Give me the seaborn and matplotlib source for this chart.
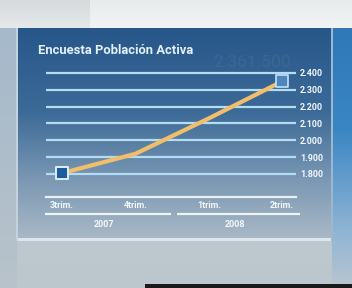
import numpy as np
import pandas as pd
import matplotlib
matplotlib.use("Agg")
import matplotlib.pyplot as plt
import seaborn as sns

# ---- data ----
quarters = ["3trim.", "4trim.", "1trim.", "2trim."]
years = ["2007", "2007", "2008", "2008"]
parados = [1.805, 1.92, 2.13, 2.35]   # millions
yticks = [1.8, 1.9, 2.0, 2.1, 2.2, 2.3, 2.4]
ytick_labels = ["1.800", "1.900", "2.000", "2.100", "2.200", "2.300", "2.400"]
title = "Encuesta Población Activa"
last_label = "2.361.500"

df = pd.DataFrame({"pos": np.arange(len(quarters)), "val": parados,
                   "q": quarters, "year": years})

sns.set_theme(style="white")
plt.rcParams["font.family"] = ["Roboto", "DejaVu Sans"]

W, H = 352, 288
fig = plt.figure(figsize=(W / 100, H / 100), dpi=100)

# ---- background (broadcast-style panel) ----
def hexrgb(h):
    h = h.lstrip("#")
    return np.array([int(h[i:i + 2], 16) for i in (0, 2, 4)]) / 255.0

def vgrad(stops, n):
    ys = np.linspace(0, 1, n)
    pos = [s[0] for s in stops]
    cols = np.array([hexrgb(s[1]) for s in stops])
    return np.stack([np.interp(ys, pos, cols[:, k]) for k in range(3)], axis=1)

img = np.zeros((H, W, 3))
img[:, :] = vgrad([(0, "#c8d2da"), (1, "#bcc6cd")], H)[:, None, :]
# left strip
img[:, :17] = vgrad([(0, "#a4b8ca"), (0.5, "#adbdca"), (1, "#b8c3ca")], H)[:, None, :]
# right strip
img[:, 332:] = vgrad([(0, "#2d74b4"), (0.45, "#3a86c4"), (0.8, "#8fb4d4"), (1, "#b8c6d0")], H)[:, None, :]
# panel
pan = vgrad([(0, "#27568a"), (0.4, "#3d6b98"), (0.72, "#7b98b4"), (1, "#aab9c6")], 240 - 28)
img[28:240, 17:332] = pan[:, None, :]
# panel edges
img[238:241, 17:332] = hexrgb("#dde6ec")
img[28:241, 16:18] = hexrgb("#c4d2de")
img[28:241, 331:333] = hexrgb("#9cb8d0")
# top band
img[:28, :] = vgrad([(0, "#e8ebec"), (1, "#f2f4f4")], 28)[:, None, :]
img[:28, :90] = vgrad([(0, "#d6dadc"), (1, "#e6e9ea")], 28)[:, None, :]
# bottom dark line
img[284:, 145:] = hexrgb("#1a1a1a")

bg = fig.add_axes([0, 0, 1, 1], zorder=-5)
bg.imshow(img, extent=[0, W, H, 0], aspect="auto", interpolation="bilinear")
bg.set_xlim(0, W)
bg.set_ylim(H, 0)
bg.axis("off")

# ---- data axes ----
ax_l, ax_r = 46, 296
ax_t, ax_b = 69.6, 182.4
ax = fig.add_axes([ax_l / W, 1 - ax_b / H, (ax_r - ax_l) / W, (ax_b - ax_t) / H])
ax.patch.set_alpha(0)
ax.set_xlim(-0.22, 3.19)
ax.set_ylim(1.75, 2.42)

# gridlines
for y in yticks:
    ax.axhline(y, color="#b4dcf2", lw=1.6, zorder=1)

sns.lineplot(data=df, x="pos", y="val", ax=ax, color="#f2be6a", lw=3.0,
             zorder=3, legend=False)
sns.scatterplot(data=df.iloc[[0]], x="pos", y="val", ax=ax, marker="s", s=70,
                color="#1b5c9e", edgecolor="#dceef8", linewidth=1.4, zorder=4,
                legend=False)
sns.scatterplot(data=df.iloc[[-1]], x="pos", y="val", ax=ax, marker="s", s=85,
                color="#4c86bc", edgecolor="#c4e2f6", linewidth=1.2, zorder=4,
                legend=False)

# y tick labels on right
ax.set_yticks(yticks)
ax.set_yticklabels(ytick_labels)
ax.yaxis.tick_right()
ax.tick_params(axis="y", length=0, pad=3, labelsize=6.5, labelcolor="#f2f6fa")
for t in ax.get_yticklabels():
    t.set_fontweight("bold")

# x axis
for s in ["top", "left", "right"]:
    ax.spines[s].set_visible(False)
y_axis = 1.8 - (197 - 174) / 168.0
ax.spines["bottom"].set_position(("data", y_axis))
ax.spines["bottom"].set_color("#e8f0f4")
ax.spines["bottom"].set_linewidth(1.6)
ax.set_xticks(df["pos"])
ax.set_xticklabels(quarters)
ax.tick_params(axis="x", direction="in", length=3, width=1, color="#e8f0f4",
               pad=2.5, labelsize=6.4, labelcolor="#f4f7fa")
for t in ax.get_xticklabels():
    t.set_fontweight("bold")
ax.set_xlabel("")
ax.set_ylabel("")

# year groups
y_year_line = 1.8 - (214 - 174) / 168.0
y_year_text = 1.8 - (224 - 174) / 168.0
for yr, (x0, x1) in zip(["2007", "2008"], [(-0.23, 1.48), (1.57, 3.25)]):
    ax.plot([x0, x1], [y_year_line, y_year_line], color="#eef3f6", lw=1.6,
            clip_on=False, solid_capstyle="butt")
    ax.text((x0 + x1) / 2 - 0.05, y_year_text, yr, ha="center", va="center",
            fontsize=6.5, fontweight="bold", color="#f6f8fa", clip_on=False)

# faint value label
ax.text(df["pos"].iloc[-1] + 0.12, 2.463, last_label, ha="right", va="center",
        fontsize=12.5, color="#ffffff", alpha=0.06, clip_on=False)

# title
fig.text(38 / W, 1 - 51 / H, title, ha="left", va="center", fontsize=9.4,
         fontweight="bold", color="#e2f0f8")

fig.savefig("out.png", dpi=100)
